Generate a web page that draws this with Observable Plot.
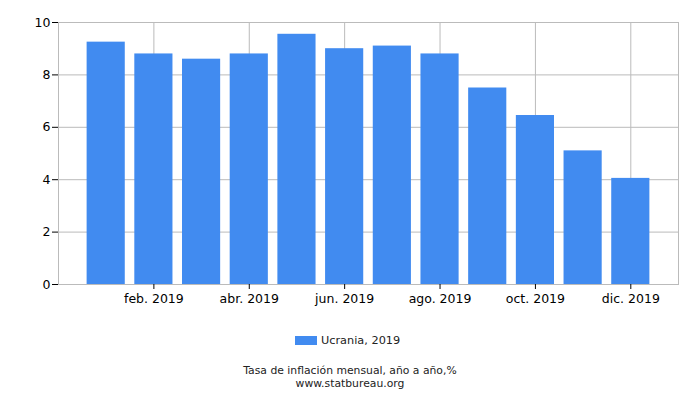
<!DOCTYPE html>
<html><head><meta charset="utf-8">
<script src="https://cdn.jsdelivr.net/npm/d3@7"></script>
<script src="https://cdn.jsdelivr.net/npm/@observablehq/plot@0.6"></script>
<style>
body{margin:0;background:#fff;font-family:"DejaVu Sans",sans-serif;}
#wrap{position:relative;width:700px;height:400px;}
#chart svg{display:block;}
.legend{position:absolute;top:336px;left:295px;height:11px;font-size:11.3px;color:#222;white-space:nowrap;}
.legend .sw{position:absolute;left:0;top:0px;width:22px;height:9px;}
.legend .lb{position:absolute;left:26px;top:-2px;}
.cap{position:absolute;left:0;width:700px;text-align:center;font-size:10.8px;color:#222;line-height:12.6px;white-space:nowrap;}
</style></head><body>
<div id="wrap"><div id="chart"></div></div>
<script>
const months = ["ene. 2019","feb. 2019","mar. 2019","abr. 2019","may. 2019","jun. 2019","jul. 2019","ago. 2019","sept. 2019","oct. 2019","nov. 2019","dic. 2019"];
const values = [9.25, 8.8, 8.6, 8.8, 9.55, 9.0, 9.1, 8.8, 7.5, 6.45, 5.1, 4.05];
const tickMonths = ["feb. 2019","abr. 2019","jun. 2019","ago. 2019","oct. 2019","dic. 2019"];
const yTicks = [0, 2, 4, 6, 8, 10];
const seriesName = "Ucrania, 2019";
const captionLines = ["Tasa de inflación mensual, año a año,%", "www.statbureau.org"];
const barColor = "#418bf0";

const data = months.map((m, i) => ({month: m, value: values[i]}));

const chart = Plot.plot({
  width: 700, height: 310,
  marginTop: 22, marginBottom: 26, marginLeft: 58, marginRight: 22,
  style: {fontFamily: "DejaVu Sans, sans-serif", background: "#fff", color: "#000"},
  x: {type: "band", domain: months, paddingInner: 0.2, paddingOuter: 0.6, round: false},
  y: {domain: [0, 10]},
  marks: [
    Plot.gridY(yTicks, {stroke: "#bbb", strokeOpacity: 1}),
    Plot.gridX(tickMonths, {stroke: "#bbb", strokeOpacity: 1}),
    Plot.barY(data, {x: "month", y: "value", fill: barColor}),
    Plot.frame({stroke: "#bbb"}),
    Plot.axisY(yTicks, {tickSize: 6, tickPadding: 2, fontSize: 12.5, label: null, stroke: "#000", fill: "#000"}),
    Plot.axisX(tickMonths, {tickSize: 5, tickPadding: 5, fontSize: 12.5, label: null, stroke: "#000", fill: "#000"})
  ]
});
document.getElementById("chart").appendChild(chart);

const wrap = document.getElementById("wrap");
const lg = document.createElement("div");
lg.className = "legend";
lg.innerHTML = `<span class="sw" style="background:${barColor}"></span><span class="lb"></span>`;
lg.querySelector(".lb").textContent = seriesName;
wrap.appendChild(lg);
captionLines.forEach((t, i) => {
  const c = document.createElement("div");
  c.className = "cap";
  c.style.top = (365 + i * 12.6) + "px";
  c.textContent = t;
  wrap.appendChild(c);
});
</script>
</body></html>
